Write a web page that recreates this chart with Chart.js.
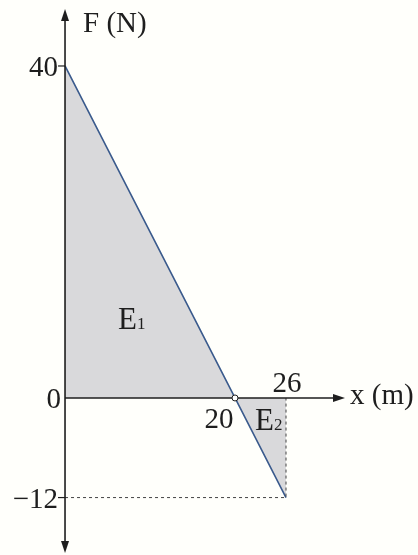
<!DOCTYPE html>
<html>
<head>
<meta charset="utf-8">
<script src="https://cdn.jsdelivr.net/npm/chart.js@4/dist/chart.umd.min.js"></script>
<style>
  html, body { margin: 0; padding: 0; background: #fffffb; }
  #wrap { width: 418px; height: 555px; position: relative; }
</style>
</head>
<body>
<div id="wrap"><canvas id="forceChart"></canvas></div>
<script>
// force vs position
const positions = [0, 20, 26];
const forces = [40, 0, -12];
const yTickValues = [40, 0, -12];
const yTickLabels = ['40', '0', '\u221212'];
const xTickValues = [20, 26];
const xTickLabels = ['20', '26'];

const serif = '"Liberation Serif", "Times New Roman", serif';
const axisColor = '#1e1e1e';

const linePoints = positions.map((x, i) => ({ x: x, y: forces[i] }));
const lastX = positions[positions.length - 1];
const lastF = forces[forces.length - 1];

// axes, arrows, labels drawn on top of the datasets
const axesPlugin = {
  id: 'axes',
  afterDatasetsDraw(chart) {
    const ctx = chart.ctx;
    const sx = chart.scales.x, sy = chart.scales.y;
    const x0 = sx.getPixelForValue(0), y0 = sy.getPixelForValue(0);
    ctx.save();
    ctx.strokeStyle = axisColor;
    ctx.fillStyle = axisColor;
    ctx.lineWidth = 1.6;

    // y axis
    ctx.beginPath();
    ctx.moveTo(x0, 16);
    ctx.lineTo(x0, 545);
    ctx.stroke();
    ctx.beginPath();
    ctx.moveTo(x0, 9); ctx.lineTo(x0 - 4, 21); ctx.lineTo(x0 + 4, 21); ctx.closePath(); ctx.fill();
    ctx.beginPath();
    ctx.moveTo(x0, 553); ctx.lineTo(x0 - 4, 541); ctx.lineTo(x0 + 4, 541); ctx.closePath(); ctx.fill();

    // x axis
    ctx.beginPath();
    ctx.moveTo(x0, y0);
    ctx.lineTo(338, y0);
    ctx.stroke();
    ctx.beginPath();
    ctx.moveTo(345, y0); ctx.lineTo(333, y0 - 4); ctx.lineTo(333, y0 + 4); ctx.closePath(); ctx.fill();

    // y ticks
    ctx.lineWidth = 1.2;
    yTickValues.forEach(v => {
      if (v === 0) return;
      const py = sy.getPixelForValue(v);
      ctx.beginPath();
      ctx.moveTo(x0 - 7, py);
      ctx.lineTo(x0, py);
      ctx.stroke();
    });

    ctx.font = '29px ' + serif;
    ctx.textAlign = 'right';
    ctx.textBaseline = 'alphabetic';
    const yOffsets = [-7, -4, -7];
    yTickValues.forEach((v, i) => {
      ctx.fillText(yTickLabels[i], x0 + yOffsets[i], sy.getPixelForValue(v) + 10);
    });

    // x tick labels: 20 below, 26 above
    ctx.textAlign = 'center';
    ctx.fillText(xTickLabels[0], sx.getPixelForValue(xTickValues[0]) - 16, y0 + 30);
    ctx.fillText(xTickLabels[1], sx.getPixelForValue(xTickValues[1]) + 1, y0 - 6);

    // axis titles
    ctx.textAlign = 'left';
    ctx.fillText('F (N)', x0 + 18, 32);
    ctx.fillText('x (m)', 350, y0 + 6);

    // area labels
    ctx.font = '31px ' + serif;
    ctx.fillText('E', 118, 329);
    ctx.fillText('E', 255, 430);
    ctx.font = '17px ' + serif;
    ctx.fillText('1', 137, 329);
    ctx.fillText('2', 274, 430);

    // open circle where the force changes sign
    const cx = sx.getPixelForValue(20);
    ctx.beginPath();
    ctx.arc(cx, y0, 3, 0, Math.PI * 2);
    ctx.fillStyle = '#ffffff';
    ctx.fill();
    ctx.lineWidth = 1;
    ctx.strokeStyle = axisColor;
    ctx.stroke();
    ctx.restore();
  }
};

function drawChart() {
  new Chart(document.getElementById('forceChart'), {
    type: 'scatter',
    data: {
      datasets: [
        {
          data: linePoints,
          showLine: true,
          borderColor: '#3a5a8c',
          borderWidth: 1.6,
          backgroundColor: '#d9d9db',
          fill: 'origin',
          pointRadius: 0,
          order: 2
        },
        {
          // dashed guide to the end force
          data: [{ x: 0, y: lastF }, { x: lastX, y: lastF }, { x: lastX, y: 0 }],
          showLine: true,
          borderColor: '#444',
          borderWidth: 1,
          borderDash: [3, 3],
          fill: false,
          pointRadius: 0,
          order: 1
        }
      ]
    },
    options: {
      responsive: true,
      maintainAspectRatio: false,
      animation: false,
      layout: { padding: 0 },
      plugins: { legend: { display: false }, tooltip: { enabled: false } },
      scales: {
        x: { type: 'linear', min: -7.65, max: 41.53, display: false },
        y: { type: 'linear', min: -18.92, max: 47.95, display: false }
      }
    },
    plugins: [axesPlugin]
  });
}

document.fonts.load('29px "Liberation Serif"').then(drawChart, drawChart);
</script>
</body>
</html>
